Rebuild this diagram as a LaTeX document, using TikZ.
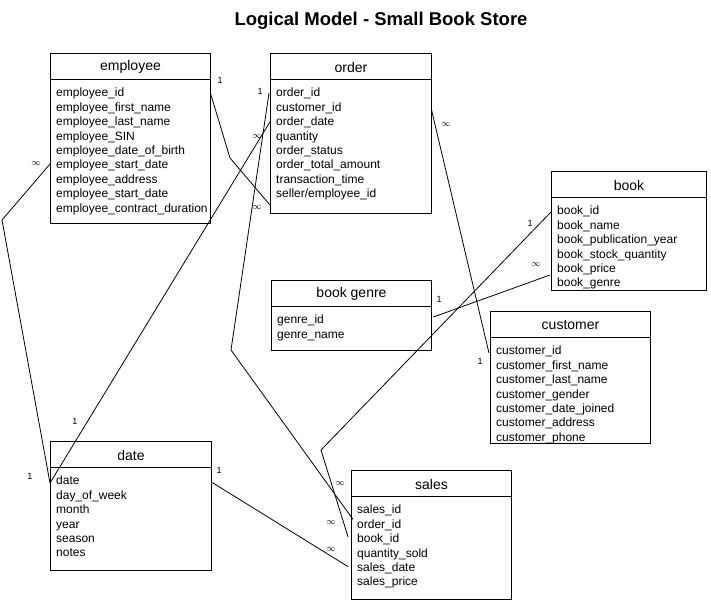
\documentclass[tikz,border=0pt]{standalone}
\usepackage{fontspec}
\setmainfont{Liberation Sans}
\usetikzlibrary{calc}
\tikzset{
  box/.style={draw, line width=1pt, inner sep=0pt, minimum width=#1, anchor=north west},
  hdr/.style={font=\fontsize{14}{16}\selectfont, inner sep=0pt},
  row/.style={font=\fontsize{12}{14}\selectfont, inner xsep=6pt, inner ysep=0pt, text width=#1, align=left, anchor=west, execute at begin node=\strut},
  lbl/.style={font=\fontsize{9}{10}\selectfont, inner sep=0pt},
  conn/.style={line width=0.8pt, line join=round},
}
\newcommand{\ertable}[7]{%
  \node[box=#4pt, minimum height=#5pt] (#1) at (#2,#3) {};
  \node[hdr] (#1-h) at ($(#1.north)+(0,14)$) {#6};
  \draw[line width=1pt] ($(#1.north west)+(0,26)$) -- ($(#1.north east)+(0,26)$);
  \pgfmathsetmacro\erTW{#4-12}
  \foreach \rowtext [count=\i] in {#7} {
    \node[row=\erTW pt] (#1-\i) at ($(#1.north west)+(0,26.6+14.4*\i)$) {\rowtext};
  }
}
\begin{document}
\begin{tikzpicture}[x=1pt, y=-1pt]
  \fill[white] (0,0) rectangle (711,603);
  \useasboundingbox (0,0) rectangle (711,603);

  \node[font=\bfseries\fontsize{18.5}{20}\selectfont, inner sep=0pt] (title) at (381,21) {Logical Model - Small Book Store};

  \ertable{emp}{50}{53}{160}{170}{employee}{employee\_id, employee\_first\_name, employee\_last\_name, employee\_SIN, employee\_date\_of\_birth, employee\_start\_date, employee\_address, employee\_start\_date, employee\_contract\_duration}
  \ertable{ord}{270}{53}{161}{160}{order}{order\_id, customer\_id, order\_date, quantity, order\_status, order\_total\_amount, transaction\_time, seller/employee\_id}
  \ertable{bk}{551}{171}{155}{119}{book}{book\_id, book\_name, book\_publication\_year, book\_stock\_quantity, book\_price, book\_genre}
  \ertable{gen}{271}{280}{160}{70}{book genre}{genre\_id, genre\_name}
  \ertable{cus}{490}{311}{160}{132}{customer}{customer\_id, customer\_first\_name, customer\_last\_name, customer\_gender, customer\_date\_joined, customer\_address, customer\_phone}
  \ertable{dat}{50}{441}{161}{129}{date}{date, day\_of\_week, month, year, season, notes}
  \ertable{sal}{351}{470}{160}{129}{sales}{sales\_id, order\_id, book\_id, quantity\_sold, sales\_date, sales\_price}

  % bend points
  \coordinate (b1) at (230,158);
  \coordinate (b2) at (231,350);
  \coordinate (b3) at (2,220);
  \coordinate (b4) at (321,450);

  % employee -> order (seller)
  \draw[conn] ($(emp-1.east)+(0,-1)$) -- (b1) -- ($(ord.south west)+(0,-9)$);
  \node[lbl] (l1a) at (220,80) {1};
  \node[lbl] (l1b) at (257,208) {$\infty$};

  % order_id -> sales order_id
  \draw[conn] ($(ord-1.west)+(-1,-1)$) -- (b2) -- ($(sal-2.west)+(2,-6)$);
  \node[lbl] (l2a) at (260,91) {1};
  \node[lbl] (l2b) at (340,484) {$\infty$};

  % order_date -> date
  \draw[conn] ($(ord-3.west)+(0,-1)$) -- ($(dat-1.west)+(0,1)$);
  \node[lbl] (l3a) at (257,137) {$\infty$};
  \node[lbl] (l3b) at (75,421) {1};

  % employee start date -> date
  \draw[conn] ($(emp-6.west)+(0,-2)$) -- (b3) -- ($(dat-1.west)+(0,1)$);
  \node[lbl] (l4a) at (36,164) {$\infty$};
  \node[lbl] (l4b) at (30,476) {1};

  % order -> customer
  \draw[conn] ($(ord-2.east)+(0,1)$) -- ($(cus-1.west)+(-1,1)$);
  \node[lbl] (l5a) at (446,125) {$\infty$};
  \node[lbl] (l5b) at (480,361) {1};

  % book genre -> book
  \draw[conn] ($(gen-1.east)+(2,-4)$) -- ($(bk-6.west)+(-1,-9)$);
  \node[lbl] (l6a) at (439,299) {1};
  \node[lbl] (l6b) at (536,265) {$\infty$};

  % book -> sales book_id
  \draw[conn] (bk-1.west) -- (b4) -- ($(sal-3.west)+(-3,-3)$);
  \node[lbl] (l7a) at (530,223) {1};
  \node[lbl] (l7b) at (331,523) {$\infty$};

  % date -> sales date
  \draw[conn] (dat-1.east) -- ($(sal-5.west)+(-3,-2)$);
  \node[lbl] (l8a) at (219,470) {1};
  \node[lbl] (l8b) at (331,550) {$\infty$};
\end{tikzpicture}
\end{document}
